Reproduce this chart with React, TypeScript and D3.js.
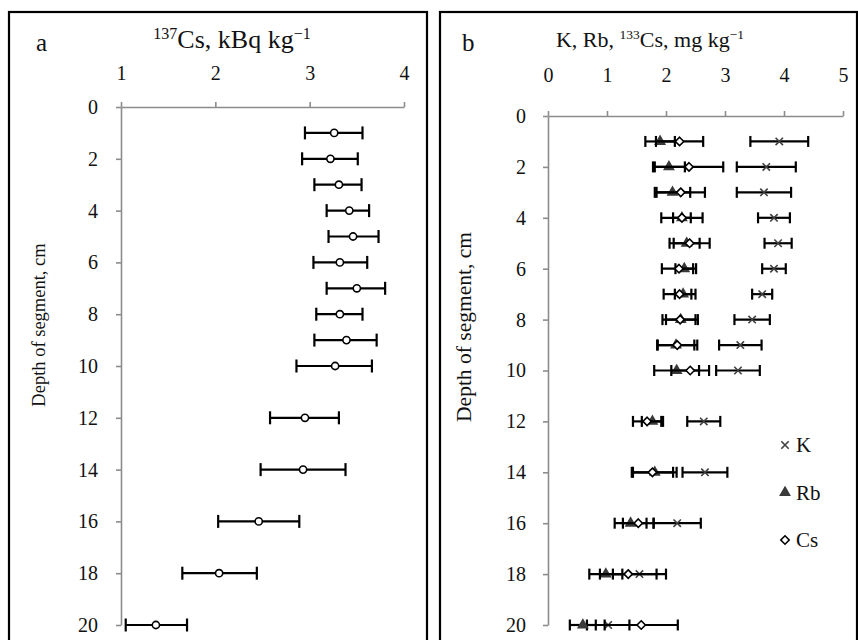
import React, { useEffect, useRef } from "react";
import * as d3 from "d3";

// depth of segment, cm (same for both panels)
const depths = [1, 2, 3, 4, 5, 6, 7, 8, 9, 10, 12, 14, 16, 18, 20];
const depthTicks = [0, 2, 4, 6, 8, 10, 12, 14, 16, 18, 20];

// panel a: 137Cs activity, kBq/kg
const csActivity = [3.26, 3.22, 3.31, 3.42, 3.46, 3.32, 3.5, 3.32, 3.39, 3.27, 2.95, 2.93, 2.46, 2.04, 1.37];
const csActivityLo = [2.95, 2.92, 3.05, 3.18, 3.2, 3.04, 3.18, 3.07, 3.05, 2.86, 2.58, 2.48, 2.03, 1.65, 1.05];
const csActivityHi = [3.56, 3.51, 3.55, 3.63, 3.73, 3.61, 3.8, 3.56, 3.71, 3.66, 3.31, 3.38, 2.89, 2.44, 1.7];
const ticksA = [1, 2, 3, 4];

// panel b: K, Rb, 133Cs, mg/kg
const kVal = [3.92, 3.7, 3.66, 3.83, 3.9, 3.83, 3.63, 3.46, 3.26, 3.22, 2.64, 2.66, 2.19, 1.55, 1.02];
const kErr = [0.49, 0.5, 0.46, 0.27, 0.23, 0.2, 0.17, 0.3, 0.36, 0.37, 0.28, 0.38, 0.4, 0.45, 0.36];
const rbVal = [1.9, 2.05, 2.11, 2.27, 2.35, 2.31, 2.29, 2.25, 2.17, 2.18, 1.77, 1.81, 1.4, 0.98, 0.59];
const rbErr = [0.25, 0.27, 0.3, 0.15, 0.22, 0.15, 0.14, 0.25, 0.31, 0.38, 0.18, 0.37, 0.27, 0.28, 0.22];
const csVal = [2.23, 2.39, 2.25, 2.27, 2.4, 2.22, 2.23, 2.24, 2.19, 2.41, 1.68, 1.77, 1.53, 1.36, 1.58];
const csErr = [0.4, 0.58, 0.41, 0.35, 0.34, 0.29, 0.27, 0.3, 0.34, 0.32, 0.24, 0.35, 0.26, 0.48, 0.62];
const ticksB = [0, 1, 2, 3, 4, 5];
const legendNames = ["K", "Rb", "Cs"];

const FONT = "'Liberation Serif', 'Times New Roman', serif";
const AXIS = "#8c8c8c";

const diamond = "M0,-4.2L4.2,0L0,4.2L-4.2,0Z";
const cross = "M-3.7,-3.7L3.7,3.7M-3.7,3.7L3.7,-3.7";
const triangle = d3.symbol().type(d3.symbolTriangle).size(36)();

function drawAxes(g, x, y, xTicks, xPad, yPad) {
  const xa = g
    .append("g")
    .attr("transform", `translate(0,${y(0)})`)
    .call(d3.axisTop(x).tickValues(xTicks).tickSizeInner(5).tickSizeOuter(0).tickPadding(xPad).tickFormat(d3.format("d")));
  const ya = g
    .append("g")
    .attr("transform", `translate(${x(xTicks[0])},0)`)
    .call(d3.axisLeft(y).tickValues(depthTicks).tickSizeInner(5).tickSizeOuter(0).tickPadding(yPad).tickFormat(d3.format("d")));
  [xa, ya].forEach((a) => {
    a.attr("font-family", FONT).attr("font-size", 20);
    a.select(".domain").attr("stroke", AXIS).attr("stroke-width", 1.6);
    a.selectAll(".tick line").attr("stroke", AXIS).attr("stroke-width", 1.6);
    a.selectAll(".tick text").attr("fill", "#111");
  });
  xa.selectAll(".tick text").attr("dy", "0em");
}

function errorBars(g, x, y, lo, hi, cap) {
  const rows = g
    .append("g")
    .selectAll("g")
    .data(depths.map((d, i) => ({ d, lo: lo[i], hi: hi[i] })))
    .join("g")
    .attr("stroke", "#000")
    .attr("stroke-width", 2.2);
  rows.append("line").attr("x1", (r) => x(r.lo)).attr("x2", (r) => x(r.hi)).attr("y1", (r) => y(r.d)).attr("y2", (r) => y(r.d));
  rows.append("line").attr("x1", (r) => x(r.lo)).attr("x2", (r) => x(r.lo)).attr("y1", (r) => y(r.d) - cap).attr("y2", (r) => y(r.d) + cap);
  rows.append("line").attr("x1", (r) => x(r.hi)).attr("x2", (r) => x(r.hi)).attr("y1", (r) => y(r.d) - cap).attr("y2", (r) => y(r.d) + cap);
}

function markers(g, x, y, vals, path, fill, stroke) {
  g.append("g")
    .selectAll("path")
    .data(vals)
    .join("path")
    .attr("transform", (v, i) => `translate(${x(v)},${y(depths[i])})`)
    .attr("d", path)
    .attr("fill", fill)
    .attr("stroke", stroke)
    .attr("stroke-width", 1.6);
}

export default function App() {
  const ref = useRef(null);

  useEffect(() => {
    const svg = d3.select(ref.current);
    svg.selectAll("*").remove();

    // ---- panel a ----
    const a = svg.append("g");
    a.append("rect").attr("x", 9).attr("y", 12).attr("width", 418).attr("height", 700).attr("fill", "none").attr("stroke", "#000").attr("stroke-width", 2.2);
    const xA = d3.scaleLinear().domain([1, 4]).range([121, 404]);
    const yA = d3.scaleLinear().domain([0, 20]).range([107, 625]);
    drawAxes(a, xA, yA, ticksA, 22, 18);

    const tA = a.append("text").attr("x", 232).attr("y", 48).attr("text-anchor", "middle").attr("font-family", FONT).attr("font-size", 26).attr("fill", "#111");
    tA.append("tspan").attr("font-size", 16).attr("dy", -9).text("137");
    tA.append("tspan").attr("dy", 9).text("Cs, kBq kg");
    tA.append("tspan").attr("font-size", 16).attr("dy", -9).text("\u22121");
    a.append("text").attr("x", 36).attr("y", 51).attr("font-family", FONT).attr("font-size", 25).attr("fill", "#111").text("a");
    a.append("text")
      .attr("transform", "translate(45,325) rotate(-90)")
      .attr("text-anchor", "middle")
      .attr("font-family", FONT)
      .attr("font-size", 18.5)
      .attr("fill", "#111")
      .text("Depth of segment, cm");

    errorBars(a, xA, yA, csActivityLo, csActivityHi, 6.5);
    a.append("g")
      .selectAll("circle")
      .data(csActivity)
      .join("circle")
      .attr("cx", (v) => xA(v))
      .attr("cy", (v, i) => yA(depths[i]))
      .attr("r", 3.6)
      .attr("fill", "#fff")
      .attr("stroke", "#000")
      .attr("stroke-width", 1.6);

    // ---- panel b ----
    const b = svg.append("g");
    b.append("rect").attr("x", 440).attr("y", 12).attr("width", 417).attr("height", 700).attr("fill", "none").attr("stroke", "#000").attr("stroke-width", 2.2);
    const xB = d3.scaleLinear().domain([0, 5]).range([548, 843]);
    const yB = d3.scaleLinear().domain([0, 20]).range([116, 625]);
    drawAxes(b, xB, yB, ticksB, 29, 17);

    const tB = b.append("text").attr("x", 650).attr("y", 47).attr("text-anchor", "middle").attr("font-family", FONT).attr("font-size", 22).attr("fill", "#111");
    tB.append("tspan").text("K, Rb, ");
    tB.append("tspan").attr("font-size", 13.5).attr("dy", -8).text("133");
    tB.append("tspan").attr("dy", 8).text("Cs, mg kg");
    tB.append("tspan").attr("font-size", 13.5).attr("dy", -8).text("\u22121");
    b.append("text").attr("x", 462).attr("y", 51).attr("font-family", FONT).attr("font-size", 25).attr("fill", "#111").text("b");
    b.append("text")
      .attr("transform", "translate(471,327) rotate(-90)")
      .attr("text-anchor", "middle")
      .attr("font-family", FONT)
      .attr("font-size", 21.5)
      .attr("fill", "#111")
      .text("Depth of segment, cm");

    const lo = (v, e) => v.map((d, i) => d - e[i]);
    const hi = (v, e) => v.map((d, i) => d + e[i]);
    errorBars(b, xB, yB, lo(kVal, kErr), hi(kVal, kErr), 5.5);
    markers(b, xB, yB, kVal, cross, "none", "#404040");
    errorBars(b, xB, yB, lo(rbVal, rbErr), hi(rbVal, rbErr), 5.5);
    markers(b, xB, yB, rbVal, triangle, "#3a3a3a", "#3a3a3a");
    errorBars(b, xB, yB, lo(csVal, csErr), hi(csVal, csErr), 5.5);
    markers(b, xB, yB, csVal, diamond, "#fff", "#000");

    // legend
    const shapes = [
      { d: cross, fill: "none", stroke: "#404040" },
      { d: triangle, fill: "#3a3a3a", stroke: "#3a3a3a" },
      { d: diamond, fill: "#fff", stroke: "#000" },
    ];
    const lg = b
      .append("g")
      .selectAll("g")
      .data(legendNames)
      .join("g")
      .attr("transform", (n, i) => `translate(785,${445 + i * 47.5})`);
    lg.append("path")
      .attr("d", (n, i) => shapes[i].d)
      .attr("fill", (n, i) => shapes[i].fill)
      .attr("stroke", (n, i) => shapes[i].stroke)
      .attr("stroke-width", 1.6);
    lg.append("text")
      .attr("x", 11)
      .attr("dy", "0.35em")
      .attr("font-family", FONT)
      .attr("font-size", 21)
      .attr("fill", "#111")
      .text((n) => n);
  }, []);

  return (
    <svg
      ref={ref}
      width={858}
      height={640}
      style={{ position: "absolute", left: 0, top: 0, background: "#fff" }}
    />
  );
}
